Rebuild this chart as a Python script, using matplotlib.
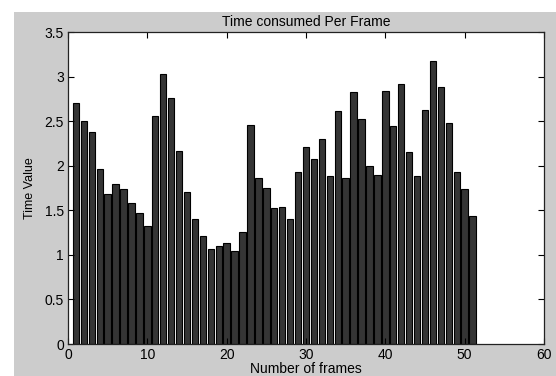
import numpy as np
import matplotlib
matplotlib.use("Agg")
import matplotlib.pyplot as plt
from matplotlib.patches import Rectangle

# ─────────────────────────────────────────────
# DATA
# ─────────────────────────────────────────────
frames = list(range(1, 52))
time_values = [
    2.70, 2.50, 2.38, 1.96, 1.68, 1.79, 1.74, 1.58, 1.47, 1.32,
    2.56, 3.03, 2.76, 2.16, 1.71, 1.40, 1.21, 1.07, 1.10, 1.13,
    1.04, 1.26, 2.46, 1.86, 1.75, 1.53, 1.54, 1.40, 1.93, 2.21,
    2.07, 2.30, 1.89, 2.61, 1.86, 2.83, 2.52, 2.00, 1.90, 2.84,
    2.44, 2.92, 2.15, 1.88, 2.62, 3.18, 2.88, 2.48, 1.93, 1.74,
    1.44,
]
x_ticks = [0, 10, 20, 30, 40, 50, 60]
y_ticks = [0, 0.5, 1, 1.5, 2, 2.5, 3, 3.5]
y_tick_labels = ["0", "0.5", "1", "1.5", "2", "2.5", "3", "3.5"]

plt.rcParams["font.family"] = ["Liberation Sans", "DejaVu Sans"]

fig = plt.figure(figsize=(5.56, 3.76), dpi=100)
fig.patch.set_facecolor("white")
# matlab-style grey figure area (behind the axes)
fig.patches.append(Rectangle((14 / 556, 0), 1, (376 - 12) / 376,
                             transform=fig.transFigure, facecolor="#cccccc",
                             edgecolor="none", zorder=-10))

ax = fig.add_axes([68 / 556, 32 / 376, 476 / 556, 312 / 376])
ax.set_facecolor("white")
ax.set_zorder(1)

ax.bar(frames, time_values, width=0.8, color="#353535",
       edgecolor="black", linewidth=0.8)

ax.set_xlim(0, 60)
ax.set_ylim(0, 3.5)
ax.set_xticks(x_ticks)
ax.set_yticks(y_ticks)
ax.set_yticklabels(y_tick_labels)
ax.tick_params(direction="in", length=4, width=0.8, top=True, right=True,
               labelsize=10, colors="black", pad=3)
for s in ax.spines.values():
    s.set_linewidth(0.9)
    s.set_color("#222222")

ax.set_title("Time consumed Per Frame", fontsize=10, pad=4)
ax.set_xlabel("Number of frames", fontsize=10, labelpad=0)
ax.set_ylabel("Time Value", fontsize=9, labelpad=6)

fig.savefig("out.png", dpi=100, facecolor=fig.get_facecolor())
